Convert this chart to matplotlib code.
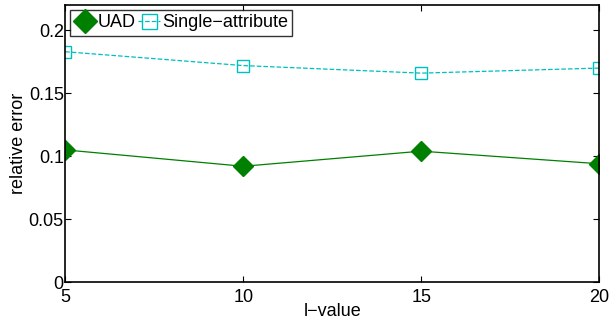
import matplotlib.pyplot as plt

# Data
l_values = [5, 10, 15, 20]
uad = [0.105, 0.092, 0.104, 0.094]
single_attr = [0.183, 0.172, 0.166, 0.170]

plt.rcParams['font.family'] = ['Liberation Sans', 'DejaVu Sans']

fig = plt.figure(figsize=(6.09, 3.22), dpi=100)
ax = fig.add_axes([0.107, 0.124, 0.877, 0.86])

ax.plot(l_values, uad, color='#008000', linestyle='-', linewidth=0.9,
        marker='D', markersize=10, label='UAD')
ax.plot(l_values, single_attr, color='#00BFBF', linestyle='--', linewidth=0.9,
        marker='s', markersize=9, markerfacecolor='none', markeredgewidth=1.0,
        label='Single\u2212attribute')

ax.set_xlim(5, 20)
ax.set_ylim(0, 0.22)
ax.set_xticks([5, 10, 15, 20])
ax.set_yticks([0, 0.05, 0.1, 0.15, 0.2])
ax.set_yticklabels(['0', '0.05', '0.1', '0.15', '0.2'])
ax.tick_params(direction='in', top=True, right=True, labelsize=13, length=4)
ax.tick_params(axis='y', pad=1)
ax.tick_params(axis='x', pad=5)
for s in ax.spines.values():
    s.set_linewidth(1.2)

ax.set_xlabel('l\u2212value', fontsize=13, labelpad=-2)
ax.set_ylabel('relative error', fontsize=13, labelpad=1)

leg = ax.legend(loc='upper left', ncol=2, fontsize=13, frameon=True, fancybox=False,
                edgecolor='black', borderpad=0.25, handlelength=1.2, handletextpad=0.1,
                columnspacing=0.15, borderaxespad=0.25, markerscale=1.2)
leg.get_frame().set_linewidth(1.0)

fig.savefig('out.png', dpi=100)
